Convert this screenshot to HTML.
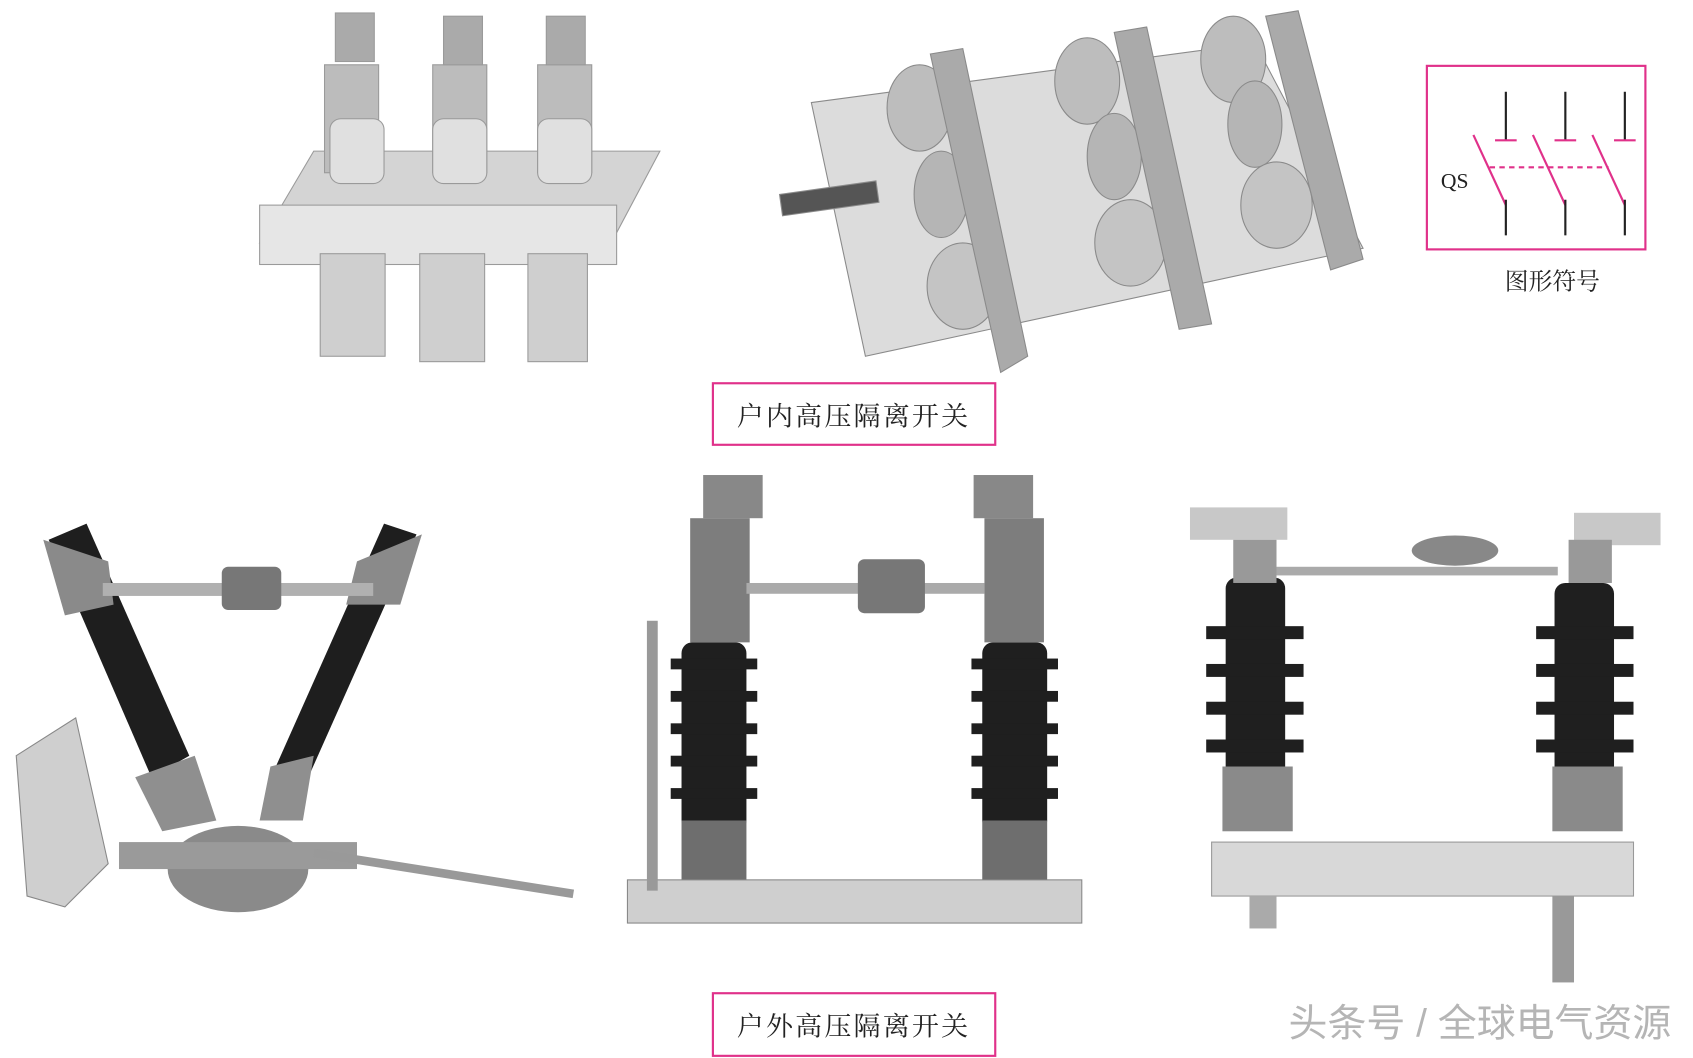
<!DOCTYPE html>
<html><head><meta charset="utf-8"><style>
html,body{margin:0;padding:0;background:#fff;}
svg{display:block;}
</style></head><body>
<svg width="1693" height="1058" viewBox="0 0 1565 980" preserveAspectRatio="none" xmlns="http://www.w3.org/2000/svg" font-family="'Liberation Serif','Noto Serif CJK SC',serif">
<rect width="1565" height="980" fill="#fff"/>
<g fill="#d4d4d4" stroke="#9a9a9a" stroke-width="1">
<polygon points="240,225 290,140 610,140 565,225"/>
<rect x="240" y="190" width="330" height="55" fill="#e6e6e6"/>
<rect x="300" y="60" width="50" height="100" fill="#bcbcbc"/>
<rect x="400" y="60" width="50" height="100" fill="#bcbcbc"/>
<rect x="497" y="60" width="50" height="100" fill="#bcbcbc"/>
<rect x="305" y="110" width="50" height="60" rx="10" fill="#e0e0e0"/>
<rect x="400" y="110" width="50" height="60" rx="10" fill="#e0e0e0"/>
<rect x="497" y="110" width="50" height="60" rx="10" fill="#e0e0e0"/>
<rect x="296" y="235" width="60" height="95" fill="#cfcfcf"/>
<rect x="388" y="235" width="60" height="100" fill="#cfcfcf"/>
<rect x="488" y="235" width="55" height="100" fill="#cfcfcf"/>
<rect x="310" y="12" width="36" height="45" fill="#aaa"/>
<rect x="410" y="15" width="36" height="45" fill="#aaa"/>
<rect x="505" y="15" width="36" height="45" fill="#aaa"/>
</g>
<g stroke="#8a8a8a" stroke-width="1">
<polygon points="750,95 1160,40 1260,230 800,330" fill="#dcdcdc"/>
<ellipse cx="850" cy="100" rx="30" ry="40" fill="#bdbdbd"/>
<ellipse cx="1005" cy="75" rx="30" ry="40" fill="#bdbdbd"/>
<ellipse cx="1140" cy="55" rx="30" ry="40" fill="#bdbdbd"/>
<ellipse cx="870" cy="180" rx="25" ry="40" fill="#b5b5b5"/>
<ellipse cx="1030" cy="145" rx="25" ry="40" fill="#b5b5b5"/>
<ellipse cx="1160" cy="115" rx="25" ry="40" fill="#b5b5b5"/>
<ellipse cx="890" cy="265" rx="33" ry="40" fill="#c4c4c4"/>
<ellipse cx="1045" cy="225" rx="33" ry="40" fill="#c4c4c4"/>
<ellipse cx="1180" cy="190" rx="33" ry="40" fill="#c4c4c4"/>
<polygon points="860,50 890,45 950,330 925,345" fill="#aaa"/>
<polygon points="1030,30 1060,25 1120,300 1090,305" fill="#aaa"/>
<polygon points="1170,15 1200,10 1260,240 1230,250" fill="#aaa"/>
<rect x="722" y="180" width="90" height="20" fill="#555" transform="rotate(-8 722 190)"/>
</g>
<rect x="1319" y="61" width="202" height="170" fill="none" stroke="#e0318a" stroke-width="2"/>
<g stroke="#222" stroke-width="2" fill="none">
<line x1="1392" y1="85" x2="1392" y2="130"/><line x1="1382" y1="130" x2="1402" y2="130" stroke="#e0318a"/>
<line x1="1447" y1="85" x2="1447" y2="130"/><line x1="1437" y1="130" x2="1457" y2="130" stroke="#e0318a"/>
<line x1="1502" y1="85" x2="1502" y2="130"/><line x1="1492" y1="130" x2="1512" y2="130" stroke="#e0318a"/>
<line x1="1362" y1="125" x2="1392" y2="190" stroke="#e0318a"/>
<line x1="1417" y1="125" x2="1447" y2="190" stroke="#e0318a"/>
<line x1="1472" y1="125" x2="1502" y2="190" stroke="#e0318a"/>
<line x1="1377" y1="155" x2="1487" y2="155" stroke="#e0318a" stroke-dasharray="5,4"/>
<line x1="1392" y1="185" x2="1392" y2="218"/>
<line x1="1447" y1="185" x2="1447" y2="218"/>
<line x1="1502" y1="185" x2="1502" y2="218"/>
</g>
<text x="1332" y="174" font-size="20" fill="#222">QS</text>
<text x="1435" y="268" font-size="22" fill="#222" text-anchor="middle">图形符号</text>
<rect x="659" y="355" width="261" height="57" fill="#fff" stroke="#e0318a" stroke-width="2"/>
<text x="789" y="394" font-size="25" fill="#222" text-anchor="middle" letter-spacing="2">户内高压隔离开关</text>
<g>
<polygon points="45,500 80,485 175,700 140,720" fill="#1e1e1e"/>
<polygon points="385,495 355,485 255,710 285,720" fill="#1e1e1e"/>
<polygon points="40,500 100,520 105,560 60,570" fill="#8a8a8a"/>
<polygon points="390,495 330,520 320,560 370,560" fill="#8a8a8a"/>
<rect x="95" y="540" width="250" height="12" fill="#b0b0b0"/>
<rect x="205" y="525" width="55" height="40" rx="6" fill="#777"/>
<polygon points="125,720 180,700 200,760 150,770" fill="#8f8f8f"/>
<polygon points="250,710 290,700 280,760 240,760" fill="#8f8f8f"/>
<ellipse cx="220" cy="805" rx="65" ry="40" fill="#8a8a8a"/>
<rect x="110" y="780" width="220" height="25" fill="#9a9a9a"/>
<polygon points="15,700 70,665 100,800 60,840 25,830" fill="#cfcfcf" stroke="#888"/>
<line x1="290" y1="790" x2="530" y2="828" stroke="#999" stroke-width="8"/>
</g>
<g>
<rect x="630" y="595" width="60" height="175" fill="#1f1f1f" rx="10"/>
<rect x="908" y="595" width="60" height="175" fill="#1f1f1f" rx="10"/>
<rect x="620" y="610" width="80" height="10" fill="#1f1f1f"/><rect x="620" y="640" width="80" height="10" fill="#1f1f1f"/><rect x="620" y="670" width="80" height="10" fill="#1f1f1f"/><rect x="620" y="700" width="80" height="10" fill="#1f1f1f"/><rect x="620" y="730" width="80" height="10" fill="#1f1f1f"/>
<rect x="898" y="610" width="80" height="10" fill="#1f1f1f"/><rect x="898" y="640" width="80" height="10" fill="#1f1f1f"/><rect x="898" y="670" width="80" height="10" fill="#1f1f1f"/><rect x="898" y="700" width="80" height="10" fill="#1f1f1f"/><rect x="898" y="730" width="80" height="10" fill="#1f1f1f"/>
<rect x="638" y="480" width="55" height="115" fill="#7d7d7d"/>
<rect x="910" y="480" width="55" height="115" fill="#7d7d7d"/>
<rect x="630" y="760" width="60" height="60" fill="#6e6e6e"/>
<rect x="908" y="760" width="60" height="60" fill="#6e6e6e"/>
<rect x="690" y="540" width="220" height="10" fill="#aaa"/>
<rect x="793" y="518" width="62" height="50" rx="6" fill="#777"/>
<rect x="580" y="815" width="420" height="40" fill="#cfcfcf" stroke="#888"/>
<rect x="598" y="575" width="10" height="250" fill="#999"/>
<rect x="650" y="440" width="55" height="40" fill="#888"/>
<rect x="900" y="440" width="55" height="40" fill="#888"/>
</g>
<g>
<rect x="1133" y="535" width="55" height="185" fill="#1f1f1f" rx="10"/>
<rect x="1437" y="540" width="55" height="180" fill="#1f1f1f" rx="10"/>
<rect x="1115" y="580" width="90" height="12" fill="#1f1f1f"/><rect x="1115" y="615" width="90" height="12" fill="#1f1f1f"/><rect x="1115" y="650" width="90" height="12" fill="#1f1f1f"/><rect x="1115" y="685" width="90" height="12" fill="#1f1f1f"/>
<rect x="1420" y="580" width="90" height="12" fill="#1f1f1f"/><rect x="1420" y="615" width="90" height="12" fill="#1f1f1f"/><rect x="1420" y="650" width="90" height="12" fill="#1f1f1f"/><rect x="1420" y="685" width="90" height="12" fill="#1f1f1f"/>
<rect x="1130" y="710" width="65" height="60" fill="#8a8a8a"/>
<rect x="1435" y="710" width="65" height="60" fill="#8a8a8a"/>
<rect x="1120" y="780" width="390" height="50" fill="#d8d8d8" stroke="#999"/>
<rect x="1100" y="470" width="90" height="30" fill="#c8c8c8"/>
<rect x="1455" y="475" width="80" height="30" fill="#c8c8c8"/>
<rect x="1140" y="500" width="40" height="40" fill="#999"/>
<rect x="1450" y="500" width="40" height="40" fill="#999"/>
<rect x="1180" y="525" width="260" height="8" fill="#aaa"/>
<ellipse cx="1345" cy="510" rx="40" ry="14" fill="#888"/>
<rect x="1435" y="830" width="20" height="80" fill="#999"/>
<rect x="1155" y="830" width="25" height="30" fill="#aaa"/>
</g>
<rect x="659" y="920" width="261" height="58" fill="#fff" stroke="#e0318a" stroke-width="2"/>
<text x="789" y="959" font-size="25" fill="#222" text-anchor="middle" letter-spacing="2">户外高压隔离开关</text>
<text x="1545" y="960" font-size="36" fill="#b5b5b5" text-anchor="end" font-family="'Liberation Sans','Noto Sans CJK SC',sans-serif">头条号 / 全球电气资源</text>
</svg>
</body></html>
